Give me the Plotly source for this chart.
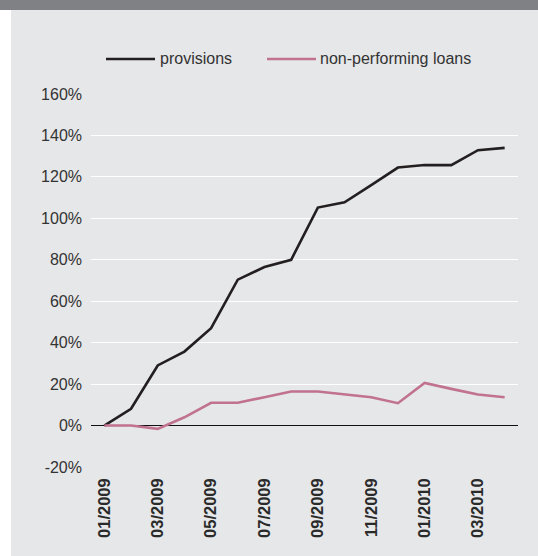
import plotly.graph_objects as go

months = ["01/2009", "02/2009", "03/2009", "04/2009", "05/2009", "06/2009", "07/2009", "08/2009",
          "09/2009", "10/2009", "11/2009", "12/2009", "01/2010", "02/2010", "03/2010", "04/2010"]
provisions = [0, 8.1, 29, 35.7, 47, 70.4, 76.5, 80, 105.2, 107.7, 116, 124.5, 125.7, 125.7, 132.9, 134]
npl = [0, 0, -1.6, 4, 11, 11, 13.7, 16.4, 16.4, 15, 13.7, 10.8, 20.6, 17.7, 15, 13.7]
series_names = ["provisions", "non-performing loans"]
y_ticks = [-20, 0, 20, 40, 60, 80, 100, 120, 140, 160]

W, H = 538, 556
L, R, T, B = 91, 20, 94, 89
PW, PH = W - L - R, H - T - B

def px_x(x):
    return (x - L) / PW

def px_y(y):
    return (H - B - y) / PH

BLACK = "#231f20"
PINK = "#c0728f"
PANEL = "#e6e7e8"
FONT = "Liberation Sans, Arial, sans-serif"
TXT = "#333333"

fig = go.Figure()
fig.add_trace(go.Scatter(x=months, y=provisions, mode="lines", name=series_names[0],
                         line=dict(color=BLACK, width=2.6), showlegend=False))
fig.add_trace(go.Scatter(x=months, y=npl, mode="lines", name=series_names[1],
                         line=dict(color=PINK, width=2.6), showlegend=False))

LEG_Y = 59
shapes = [
    # top dark band
    dict(type="rect", xref="paper", yref="paper", x0=px_x(0), x1=px_x(W), y0=px_y(10), y1=px_y(0),
         fillcolor="#808184", line=dict(width=0), layer="below"),
    # white left strip
    dict(type="rect", xref="paper", yref="paper", x0=px_x(0), x1=px_x(11), y0=px_y(H), y1=px_y(10),
         fillcolor="white", line=dict(width=0), layer="below"),
    # legend lines
    dict(type="line", xref="paper", yref="paper", x0=px_x(106), x1=px_x(155), y0=px_y(LEG_Y), y1=px_y(LEG_Y),
         line=dict(color=BLACK, width=2.6)),
    dict(type="line", xref="paper", yref="paper", x0=px_x(267), x1=px_x(316), y0=px_y(LEG_Y), y1=px_y(LEG_Y),
         line=dict(color=PINK, width=2.6)),
]
annotations = [
    dict(text=series_names[0], xref="paper", yref="paper", x=px_x(158), y=px_y(LEG_Y),
         xanchor="left", yanchor="middle", showarrow=False, font=dict(size=16, color=TXT, family=FONT)),
    dict(text=series_names[1], xref="paper", yref="paper", x=px_x(318), y=px_y(LEG_Y),
         xanchor="left", yanchor="middle", showarrow=False, font=dict(size=16, color=TXT, family=FONT)),
]

fig.update_layout(
    width=W, height=H,
    margin=dict(l=L, r=R, t=T, b=B, pad=0),
    paper_bgcolor=PANEL, plot_bgcolor=PANEL,
    font=dict(family=FONT, size=16, color=TXT),
    shapes=shapes, annotations=annotations,
    showlegend=False,
    xaxis=dict(type="category", range=[-0.5, 15.5], tickmode="array",
               tickvals=months[::2], ticktext=months[::2], tickangle=-90,
               tickfont=dict(size=16.5, weight="bold", color="#2a2a2a"),
               showgrid=False, zeroline=False, showline=False, ticks="",
               ticklabelstandoff=7),
    yaxis=dict(range=[-20, 160], tickmode="array", tickvals=y_ticks,
               ticktext=[f"{v}%" for v in y_ticks],
               showgrid=True, gridcolor="white", gridwidth=1.3,
               zeroline=True, zerolinecolor="#111111", zerolinewidth=1.3,
               showline=False, ticks="", ticklabelstandoff=8),
)

fig.write_html("out.html", config={"displayModeBar": False},
               post_script="document.body.style.margin='0';document.body.style.overflow='hidden';")
